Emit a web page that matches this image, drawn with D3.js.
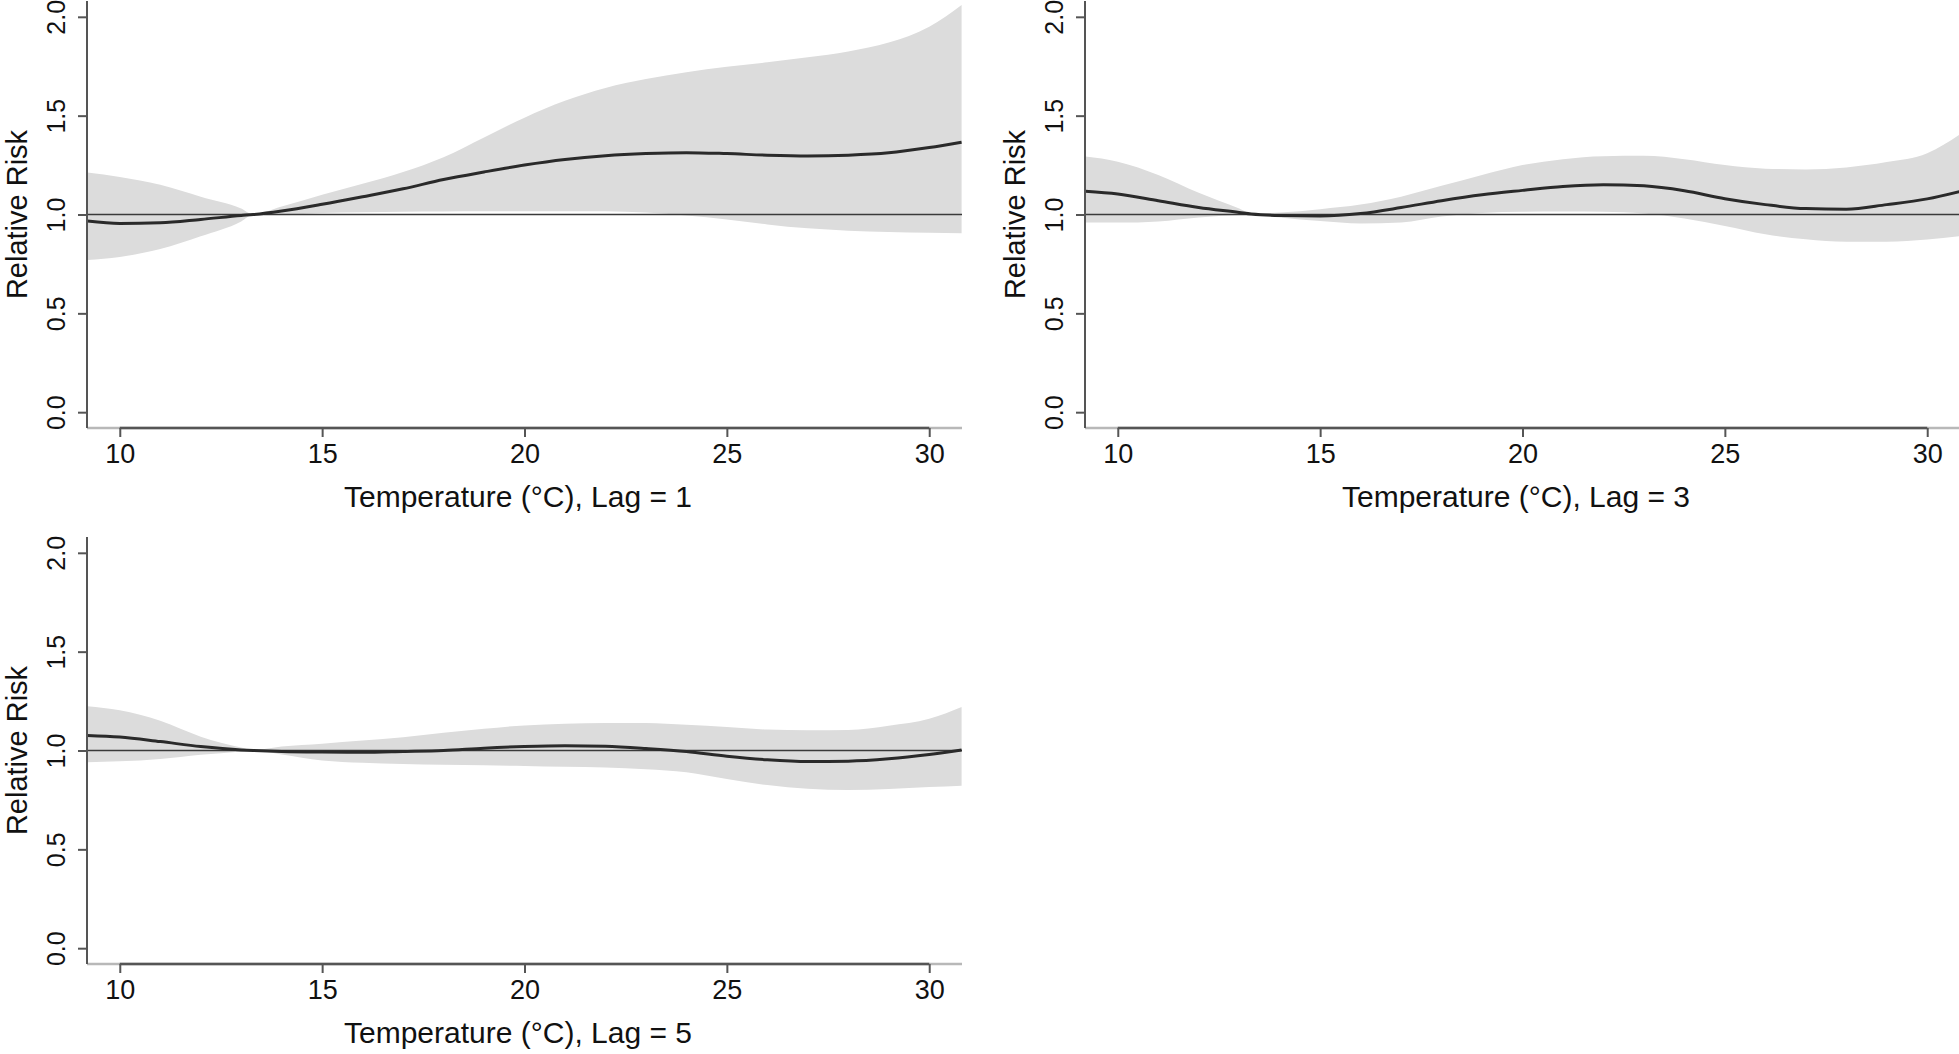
<!DOCTYPE html>
<html>
<head>
<meta charset="utf-8">
<script src="https://cdn.jsdelivr.net/npm/d3@7"></script>
<style>
  html, body { margin: 0; padding: 0; background: #fff; }
  svg { display: block; font-family: "Liberation Sans", Arial, Helvetica, sans-serif; }
</style>
</head>
<body>
<svg id="chart" width="1959" height="1054"></svg>
<script>
// ---- data ----
const temps = [9.2, 10, 11, 12, 13, 13.3, 14, 15, 16, 17, 18, 19, 20, 21, 22, 23, 24, 25, 26, 27, 28, 29, 30, 30.8];

const lag1RR = [0.967, 0.955, 0.958, 0.975, 0.995, 1.0, 1.018, 1.052, 1.09, 1.13, 1.177, 1.215, 1.25, 1.278, 1.297, 1.308, 1.313, 1.308, 1.30, 1.296, 1.30, 1.312, 1.339, 1.366];
const lag1Hi = [1.212, 1.19, 1.15, 1.09, 1.03, 1.0, 1.04, 1.10, 1.155, 1.215, 1.29, 1.39, 1.49, 1.575, 1.64, 1.685, 1.72, 1.747, 1.77, 1.795, 1.825, 1.87, 1.95, 2.06];
const lag1Lo = [0.77, 0.785, 0.825, 0.89, 0.965, 1.0, 1.0, 1.008, 1.012, 1.014, 1.015, 1.016, 1.017, 1.017, 1.016, 1.01, 0.995, 0.975, 0.95, 0.93, 0.918, 0.912, 0.908, 0.905];

const lag3RR = [1.118, 1.104, 1.07, 1.035, 1.01, 1.002, 0.995, 0.993, 1.005, 1.035, 1.07, 1.10, 1.122, 1.142, 1.151, 1.145, 1.12, 1.08, 1.05, 1.03, 1.027, 1.05, 1.079, 1.116];
const lag3Hi = [1.293, 1.267, 1.20, 1.11, 1.03, 1.005, 1.01, 1.027, 1.05, 1.09, 1.145, 1.20, 1.25, 1.28, 1.295, 1.297, 1.28, 1.25, 1.232, 1.228, 1.238, 1.265, 1.31, 1.404];
const lag3Lo = [0.959, 0.959, 0.965, 0.985, 0.998, 1.0, 0.985, 0.967, 0.955, 0.96, 0.99, 1.008, 1.014, 1.015, 1.014, 1.005, 0.98, 0.942, 0.90, 0.875, 0.862, 0.862, 0.873, 0.89];

const lag5RR = [1.076, 1.068, 1.045, 1.02, 1.003, 1.0, 0.995, 0.992, 0.991, 0.995, 1.0, 1.012, 1.02, 1.024, 1.021, 1.01, 0.995, 0.971, 0.953, 0.944, 0.946, 0.958, 0.98, 1.003];
const lag5Hi = [1.224, 1.203, 1.15, 1.07, 1.015, 1.002, 1.02, 1.034, 1.05, 1.067, 1.09, 1.11, 1.127, 1.135, 1.139, 1.139, 1.13, 1.119, 1.106, 1.102, 1.104, 1.125, 1.16, 1.22];
const lag5Lo = [0.941, 0.945, 0.957, 0.978, 0.995, 1.0, 0.98, 0.95, 0.938, 0.932, 0.928, 0.925, 0.922, 0.918, 0.914, 0.905, 0.89, 0.856, 0.825, 0.806, 0.80, 0.805, 0.815, 0.822];

const xTicks = [10, 15, 20, 25, 30];
const yTicks = [0.0, 0.5, 1.0, 1.5, 2.0];
const xTitles = ["Temperature (°C), Lag = 1", "Temperature (°C), Lag = 3", "Temperature (°C), Lag = 5"];
const yTitle = "Relative Risk";

// ---- layout ----
const panels = [
  { left: 87,   top: 1,   rr: lag1RR, lo: lag1Lo, hi: lag1Hi, title: xTitles[0] },
  { left: 1085, top: 1,   rr: lag3RR, lo: lag3Lo, hi: lag3Hi, title: xTitles[1] },
  { left: 87,   top: 537, rr: lag5RR, lo: lag5Lo, hi: lag5Hi, title: xTitles[2] }
];
const W = 875, H = 427;

const svg = d3.select("#chart");
const defs = svg.append("defs");

panels.forEach((p, i) => {
  const x = d3.scaleLinear().domain([9.19, 30.81]).range([0, W]);
  const y = d3.scaleLinear().domain([-0.08, 2.08]).range([H, 0]);
  const g = svg.append("g").attr("transform", `translate(${p.left},${p.top})`);

  defs.append("clipPath").attr("id", "clip" + i)
    .append("rect").attr("x", 0).attr("y", 0).attr("width", W).attr("height", H);

  const plot = g.append("g").attr("clip-path", `url(#clip${i})`);
  const rows = temps.map((t, k) => ({ t, rr: p.rr[k], lo: p.lo[k], hi: p.hi[k] }));

  plot.append("path")
    .datum(rows)
    .attr("fill", "#dcdcdc")
    .attr("d", d3.area().curve(d3.curveMonotoneX)
      .x(d => x(d.t)).y0(d => y(d.lo)).y1(d => y(d.hi)));

  plot.append("line")
    .attr("x1", 0).attr("x2", W)
    .attr("y1", y(1)).attr("y2", y(1))
    .attr("stroke", "#3a3a3a").attr("stroke-width", 1.6);

  plot.append("path")
    .datum(rows)
    .attr("fill", "none")
    .attr("stroke", "#2a2a2a")
    .attr("stroke-width", 3)
    .attr("d", d3.line().curve(d3.curveMonotoneX).x(d => x(d.t)).y(d => y(d.rr)));

  // box bottom (light) and left
  g.append("line").attr("x1", 0).attr("x2", W).attr("y1", H).attr("y2", H)
    .attr("stroke", "#b8b8b8").attr("stroke-width", 2.5);
  g.append("line").attr("x1", 0).attr("x2", 0).attr("y1", 0).attr("y2", H)
    .attr("stroke", "#555").attr("stroke-width", 2);

  // x axis
  const xa = g.append("g").attr("transform", `translate(0,${H})`)
    .call(d3.axisBottom(x).tickValues(xTicks).tickSize(9).tickPadding(10).tickFormat(d3.format("d")));
  xa.select(".domain").attr("d", `M${x(xTicks[0])},0H${x(xTicks[xTicks.length - 1])}`)
    .attr("stroke", "#555").attr("stroke-width", 2.5);
  xa.selectAll(".tick line").attr("stroke", "#555").attr("stroke-width", 2);
  xa.selectAll(".tick text")
    .attr("font-size", 27).attr("fill", "#111")
    .attr("dy", null).attr("y", 35)
    .attr("font-family", "'Liberation Sans', Arial, sans-serif");

  // y axis
  const ya = g.append("g")
    .call(d3.axisLeft(y).tickValues(yTicks).tickSize(9).tickFormat(d3.format(".1f")));
  ya.select(".domain").remove();
  ya.selectAll(".tick line").attr("stroke", "#555").attr("stroke-width", 2);
  ya.selectAll(".tick text")
    .attr("font-size", 25).attr("fill", "#111")
    .attr("x", null).attr("dy", null)
    .attr("text-anchor", "middle")
    .attr("transform", "translate(-22,0) rotate(-90)")
    .attr("font-family", "'Liberation Sans', Arial, sans-serif");

  // titles
  g.append("text")
    .attr("x", 431).attr("y", 506)
    .attr("text-anchor", "middle")
    .attr("font-size", 30).attr("fill", "#111")
    .text(p.title);

  g.append("text")
    .attr("transform", `translate(-60,${H / 2}) rotate(-90)`)
    .attr("text-anchor", "middle")
    .attr("font-size", 29).attr("fill", "#111")
    .text(yTitle);
});
</script>
</body>
</html>
